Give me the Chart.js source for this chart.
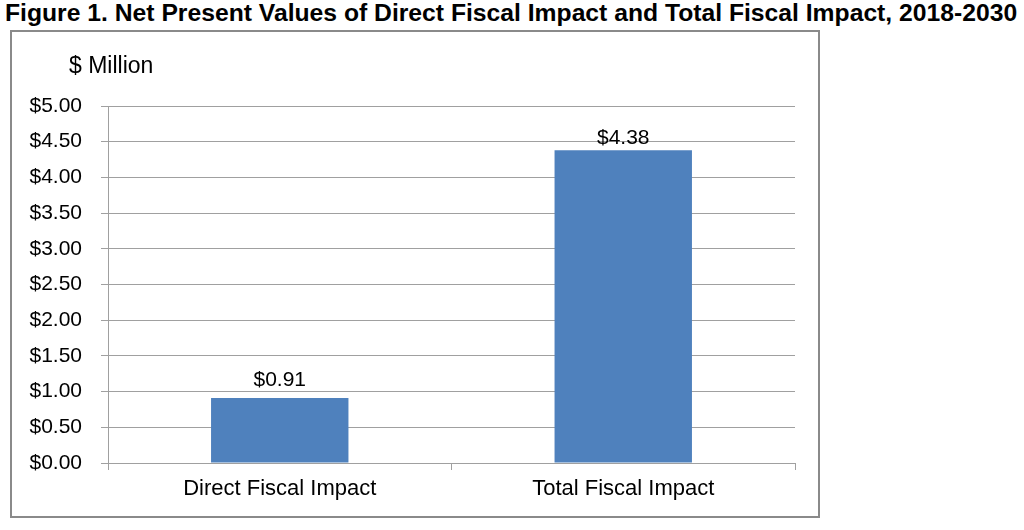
<!DOCTYPE html>
<html>
<head>
<meta charset="utf-8">
<script src="https://cdn.jsdelivr.net/npm/chart.js@4"></script>
<style>
    html, body { margin: 0; padding: 0; background: #fff; }
    #wrap { position: relative; width: 1024px; height: 530px; overflow: hidden; }
    #title {
        position: absolute; left: 5px; top: 0px;
        font: bold 24.7px "Liberation Sans", Arial, sans-serif;
        color: #000; white-space: nowrap; line-height: 26px;
    }
    #box {
        position: absolute; left: 10px; top: 30px;
        width: 806px; height: 484px;
        border: 2px solid #8a8a8a;
    }
    #main_chart { position: absolute; left: 0; top: 0; }
</style>
</head>
<body>
<div id="wrap">
    <div id="title">Figure 1. Net Present Values of Direct Fiscal Impact and Total Fiscal Impact, 2018-2030</div>
    <div id="box"></div>
    <canvas id="main_chart" width="1024" height="530"></canvas>
</div>
<script>
const categories = ["Direct Fiscal Impact", "Total Fiscal Impact"];
const npvValues = [0.91, 4.38];
const valueLabels = ["$0.91", "$4.38"];
const yTicks = [0, 0.5, 1, 1.5, 2, 2.5, 3, 3.5, 4, 4.5, 5];
const unitLabel = "$ Million";

const FONT = '"Liberation Sans", Arial, sans-serif';
const labelGap = [12, 6];

const barLabels = {
    id: 'barLabels',
    afterDatasetsDraw(chart) {
        const ctx = chart.ctx;
        const meta = chart.getDatasetMeta(0);
        ctx.save();
        ctx.font = '21px ' + FONT;
        ctx.fillStyle = '#000';
        ctx.textAlign = 'center';
        ctx.textBaseline = 'alphabetic';
        meta.data.forEach((bar, i) => {
            ctx.fillText(valueLabels[i], bar.x, bar.y - labelGap[i]);
        });
        // unit label above the y axis
        ctx.font = '23px ' + FONT;
        ctx.textAlign = 'left';
        ctx.fillText(unitLabel, 69, 73);
        ctx.restore();
    }
};

const ctx = document.getElementById("main_chart").getContext("2d");
const mainChart = new Chart(ctx, {
    type: 'bar',
    data: {
        labels: categories,
        datasets: [{
            data: npvValues,
            backgroundColor: "#4F81BD",
            borderWidth: 0,
            barPercentage: 0.4,
            categoryPercentage: 1.0
        }]
    },
    options: {
        responsive: false,
        animation: false,
        layout: {
            padding: { left: 0, top: 106, right: 229, bottom: 0 }
        },
        plugins: {
            legend: { display: false },
            tooltip: { enabled: false }
        },
        scales: {
            x: {
                offset: true,
                afterFit: (scale) => { scale.height = 67; },
                border: { display: true, color: '#a0a0a0', width: 1 },
                grid: {
                    offset: true,
                    drawOnChartArea: false,
                    drawTicks: true,
                    tickLength: 7,
                    color: '#a0a0a0'
                },
                ticks: {
                    color: '#000',
                    padding: 6,
                    font: { family: FONT, size: 22 },
                    maxRotation: 0
                }
            },
            y: {
                min: 0,
                max: 5,
                afterFit: (scale) => { scale.width = 108; },
                afterBuildTicks: (scale) => {
                    scale.ticks = yTicks.map(v => ({ value: v }));
                },
                border: { display: true, color: '#a0a0a0', width: 1 },
                grid: {
                    color: '#a0a0a0',
                    tickLength: 7,
                    drawTicks: true
                },
                ticks: {
                    color: '#000',
                    padding: 19,
                    font: { family: FONT, size: 21 },
                    callback: (v) => '$' + Number(v).toFixed(2)
                }
            }
        }
    },
    plugins: [barLabels]
});
</script>
</body>
</html>
